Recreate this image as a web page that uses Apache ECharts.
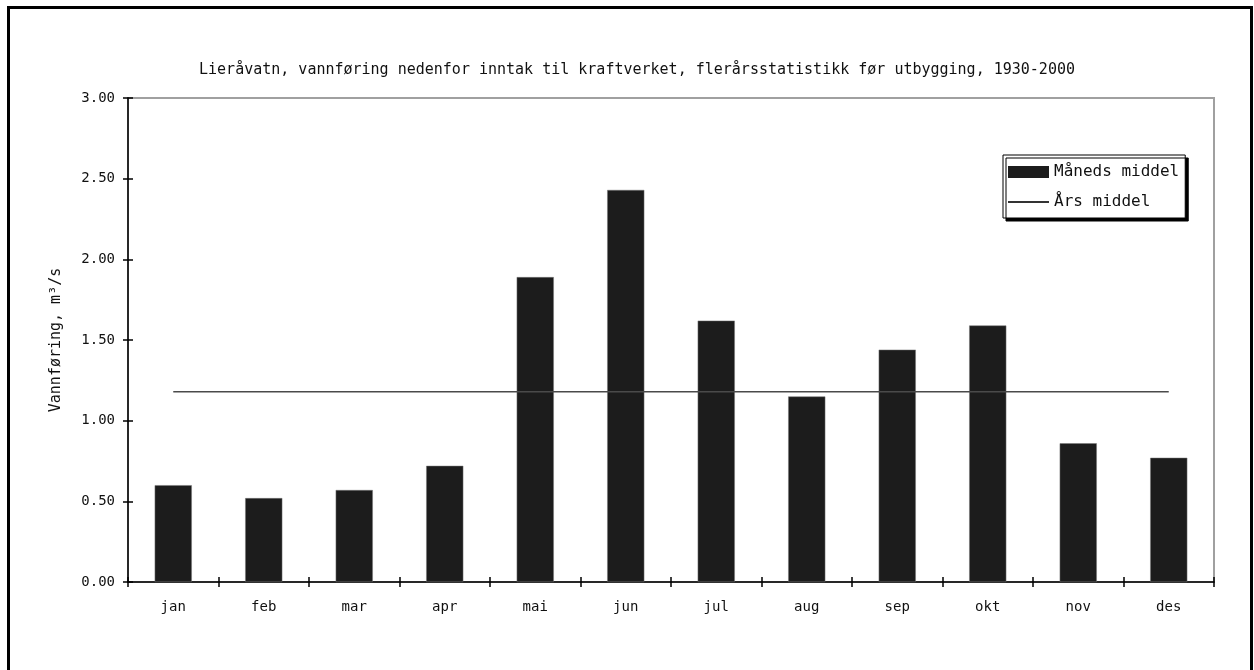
<!DOCTYPE html>
<html><head><meta charset="utf-8">
<script src="https://cdn.jsdelivr.net/npm/echarts@6/dist/echarts.min.js"></script>
<style>html,body{margin:0;padding:0;background:#fff}#c{width:1254px;height:670px}</style>
</head><body><div id="c"></div>
<script>
var categories = ['jan','feb','mar','apr','mai','jun','jul','aug','sep','okt','nov','des'];
var monthlyMean = [0.60,0.52,0.57,0.72,1.89,2.43,1.62,1.15,1.44,1.59,0.86,0.77];
var annualMean = [1.18,1.18,1.18,1.18,1.18,1.18,1.18,1.18,1.18,1.18,1.18,1.18];
var titleText = 'Lieråvatn, vannføring nedenfor inntak til kraftverket, flerårsstatistikk før utbygging, 1930-2000';
var yName = 'Vannføring, m³/s';

var chart = echarts.init(document.getElementById('c'));
var font = 'DejaVu Sans Mono';
chart.setOption({
  animation: false,
  backgroundColor: '#fff',
  title: {
    text: titleText, left: 632, top: 58, textAlign: 'center',
    textStyle: {fontFamily: font, fontSize: 15, fontWeight: 'normal', color: '#111'}
  },
  legend: {
    orient: 'vertical', left: 1003, top: 155,
    padding: [9, 6, 8, 4], itemGap: 14,
    itemWidth: 41, itemHeight: 12,
    backgroundColor: '#fff', borderColor: '#000', borderWidth: 1,
    shadowColor: '#000', shadowOffsetX: 3, shadowOffsetY: 3, shadowBlur: 0,
    textStyle: {fontFamily: font, fontSize: 16, color: '#111'},
    data: [
      {name: 'Måneds middel', icon: 'rect', itemStyle: {color: '#1c1c1c', borderWidth: 0}},
      {name: 'Års middel', itemStyle: {opacity: 0}, lineStyle: {color: '#333', width: 2}}
    ]
  },
  grid: {left: 128, right: 40, top: 98, bottom: 88, show: true, borderColor: '#a0a0a0', borderWidth: 2},
  xAxis: [{
    type: 'category', data: categories, position: 'bottom', boundaryGap: true,
    axisLine: {lineStyle: {color: '#000', width: 1.5}},
    axisTick: {show: true, length: 5, lineStyle: {color: '#000', width: 1.5}},
    axisLabel: {margin: 18, fontFamily: font, fontSize: 14, color: '#111'}
  }, {
    type: 'category', data: categories, position: 'bottom', boundaryGap: true,
    axisLine: {show: false},
    axisTick: {show: true, inside: true, length: 5, lineStyle: {color: '#000', width: 1.5}},
    axisLabel: {show: false}
  }],
  yAxis: [{
    type: 'value', min: 0, max: 3, interval: 0.5, position: 'left',
    name: yName, nameLocation: 'middle', nameGap: 64, nameRotate: 90,
    nameTextStyle: {fontFamily: font, fontSize: 15, color: '#111'},
    axisLine: {show: true, lineStyle: {color: '#000', width: 1.5}},
    axisTick: {show: true, length: 5, lineStyle: {color: '#000', width: 1.5}},
    axisLabel: {margin: 13, fontFamily: font, fontSize: 14, color: '#111', formatter: function(v){return v.toFixed(2);}},
    splitLine: {show: false}
  }, {
    type: 'value', min: 0, max: 3, interval: 0.5, position: 'left', offset: 0,
    axisLine: {show: false},
    axisTick: {show: true, inside: true, length: 5, lineStyle: {color: '#000', width: 1.5}},
    axisLabel: {show: false}, splitLine: {show: false}
  }],
  series: [{
    name: 'Måneds middel', type: 'bar', data: monthlyMean, barWidth: '41%',
    itemStyle: {color: '#1c1c1c', borderColor: '#777', borderWidth: 0.5}
  }, {
    name: 'Års middel', type: 'line', data: annualMean, symbol: 'none',
    lineStyle: {color: '#4a4a4a', width: 1.5}, itemStyle: {color: '#4a4a4a'}, z: 5
  }],
  graphic: [{
    type: 'rect', left: 6, top: 5, silent: true,
    shape: {x: 0, y: 0, width: 1243, height: 720},
    style: {fill: 'none', stroke: '#000', lineWidth: 3}, z: 100
  }]
});
</script></body></html>
